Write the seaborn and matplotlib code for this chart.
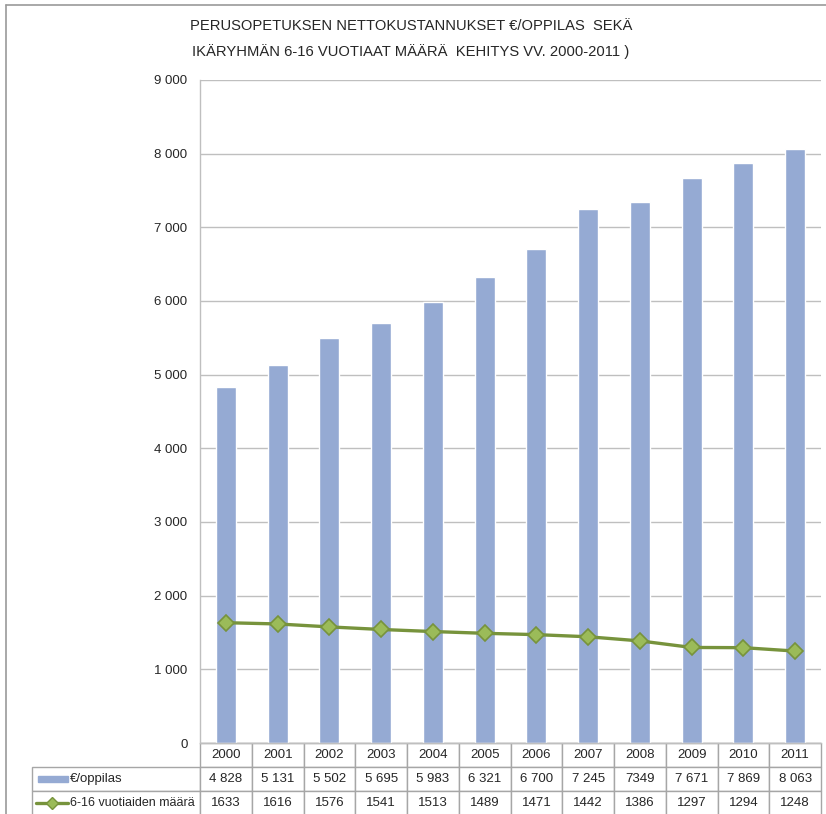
import numpy as np
import pandas as pd
import matplotlib.pyplot as plt
from matplotlib.lines import Line2D
from matplotlib.patches import Rectangle
import seaborn as sns

years = ['2000', '2001', '2002', '2003', '2004', '2005',
         '2006', '2007', '2008', '2009', '2010', '2011']
cost_per_pupil = [4828, 5131, 5502, 5695, 5983, 6321, 6700, 7245, 7349, 7671, 7869, 8063]
cost_labels = ['4 828', '5 131', '5 502', '5 695', '5 983', '6 321',
               '6 700', '7 245', '7349', '7 671', '7 869', '8 063']
pupils = [1633, 1616, 1576, 1541, 1513, 1489, 1471, 1442, 1386, 1297, 1294, 1248]
series_names = ['€/oppilas', '6-16 vuotiaiden määrä']
title = 'PERUSOPETUKSEN NETTOKUSTANNUKSET €/OPPILAS  SEKÄ\nIKÄRYHMÄN 6-16 VUOTIAAT MÄÄRÄ  KEHITYS VV. 2000-2011 )'

sns.set_style('white')
plt.rcParams['font.family'] = ['Liberation Sans', 'DejaVu Sans']

W, H = 826, 814
fig = plt.figure(figsize=(W / 100, H / 100), dpi=100)
ax = fig.add_axes([200 / W, 1 - 743 / H, 621 / W, (743 - 80) / H])

bar_col = '#95AAD3'
line_col = '#77933C'
mark_col = '#9BBB59'
grid_col = '#BFBFBF'

df = pd.DataFrame({'year': years, 'cost': cost_per_pupil})
sns.barplot(data=df, x='year', y='cost', color=bar_col, width=0.39,
            saturation=1, ax=ax, zorder=2)
sns.lineplot(x=np.arange(len(years)), y=pupils, color=line_col, lw=2.4,
             marker='D', markersize=8, markerfacecolor=mark_col,
             markeredgecolor=line_col, markeredgewidth=1.2, ax=ax, zorder=3)

ax.set_xlim(-0.5, len(years) - 0.5)
ax.set_ylim(0, 9000)
yt = np.arange(0, 9001, 1000)
ax.set_yticks(yt)
ax.set_yticklabels(['0' if v == 0 else f'{v // 1000} 000' for v in yt], fontsize=9.5)
ax.tick_params(axis='y', length=0, pad=9)
ax.set_xticks([])
ax.set_xlabel('')
ax.set_ylabel('')
ax.yaxis.grid(True, color=grid_col, lw=1, zorder=0)
ax.set_axisbelow(True)
for s in ['top', 'right']:
    ax.spines[s].set_visible(False)
for s in ['left', 'bottom']:
    ax.spines[s].set_color(grid_col)
    ax.spines[s].set_linewidth(1)

# data table under the plot
n = len(years)
label_w = 168
col_w = 621 / n
rows = [[''] + years, [''] + cost_labels, [''] + [str(v) for v in pupils]]
tab_h = 72 / (743 - 80)
tbl = ax.table(cellText=rows, cellLoc='center',
               colWidths=[label_w / 621] + [col_w / 621] * n,
               bbox=[-label_w / 621, -tab_h, 1 + label_w / 621, tab_h])
tbl.auto_set_font_size(False)
tbl.set_fontsize(9.5)
for (r, c), cell in tbl.get_celld().items():
    cell.set_edgecolor('#A6A6A6')
    cell.set_linewidth(1)
    if r == 0 and c == 0:
        cell.set_visible(False)

# legend keys inside the table
def fx(px):
    return px / W

def fy(py):
    return 1 - py / H

fig.add_artist(Rectangle((fx(38), fy(782)), fx(68) - fx(38), 6 / H,
                         color=bar_col, transform=fig.transFigure))
fig.add_artist(Line2D([fx(36), fx(68)], [fy(803), fy(803)], color=line_col,
                      lw=2.4, transform=fig.transFigure))
fig.add_artist(Line2D([fx(52)], [fy(803)], marker='D', markersize=6,
                      markerfacecolor=mark_col, markeredgecolor=line_col,
                      transform=fig.transFigure))
fig.text(fx(70), fy(779), series_names[0], fontsize=9.5, va='center')
fig.text(fx(70), fy(803), series_names[1], fontsize=9, va='center')

# title
fig.text(fx(411), fy(39), title, ha='center', va='center', fontsize=10.6,
         linespacing=1.9)

# outer chart frame
fig.add_artist(Line2D([fx(6), fx(6)], [0, fy(5)], color='#9A9A9A', lw=1.2,
                      transform=fig.transFigure))
fig.add_artist(Line2D([fx(6), 1], [fy(5), fy(5)], color='#9A9A9A', lw=1.2,
                      transform=fig.transFigure))

fig.savefig('out.png', dpi=100)
